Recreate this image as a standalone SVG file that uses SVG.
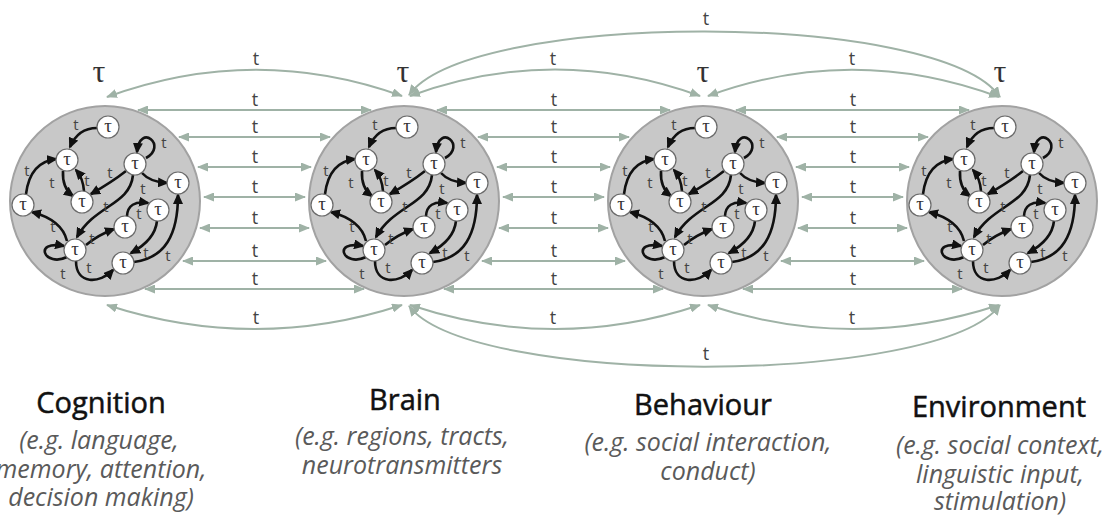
<svg xmlns="http://www.w3.org/2000/svg" xmlns:xlink="http://www.w3.org/1999/xlink" width="1117" height="515" viewBox="0 0 1117 515">
<defs>
<style>
.big{fill:#c8c8c8;stroke:#a2a2a2;stroke-width:2}
.n{fill:#fff;stroke:#6a6a6a;stroke-width:1.2}
.nt{font-family:"Liberation Serif",serif;font-size:19px;fill:#333;text-anchor:middle}
.e{fill:none;stroke:#111;stroke-width:2.6;marker-end:url(#ah)}
.it{font-family:"Open Sans","Liberation Sans",sans-serif;font-size:15px;fill:#444;text-anchor:middle}
.c{fill:none;stroke:#9fb2a6;stroke-width:2;marker-start:url(#ag);marker-end:url(#ag)}
.ct{font-family:"Open Sans","Liberation Sans",sans-serif;font-size:18px;fill:#444;text-anchor:middle}
.tau{font-family:"Liberation Serif",serif;font-size:32px;fill:#333;text-anchor:middle}
.ti{font-family:"Open Sans","Liberation Sans",sans-serif;font-size:29px;font-weight:normal;fill:#111;stroke:#111;stroke-width:0.5;text-anchor:middle}
.sub{font-family:"Open Sans","Liberation Sans",sans-serif;font-size:25px;font-style:italic;fill:#5a5a5a;text-anchor:middle}
</style>
<marker id="ah" markerUnits="userSpaceOnUse" markerWidth="11" markerHeight="10" refX="9" refY="5" orient="auto"><path d="M0,0 L11,5 L0,10 z" fill="#111"/></marker>
<marker id="ag" markerUnits="userSpaceOnUse" markerWidth="11" markerHeight="9" refX="10" refY="4.5" orient="auto-start-reverse"><path d="M0,0 L11,4.5 L0,9 z" fill="#9fb2a6"/></marker>
<g id="net">
<path class="e" d="M-8,-73 Q-27,-73 -35,-54"/>
<path class="e" d="M-79,-7 Q-75,-39 -49,-42"/>
<path class="e" d="M-42,-30 Q-43,-13 -32,-5"/>
<path class="e" d="M-21,-10 Q-22,-23 -29,-31"/>
<path class="e" d="M41,-43 C63,-55 35,-79 32,-49"/>
<path class="e" d="M21,-30 Q7,-19 -14,-7"/>
<path class="e" d="M37,-28 Q45,-19 62,-18"/>
<path class="e" d="M28,-26 C25,4 -10,4 -28,36"/>
<path class="e" d="M-38,40 Q-43,19 -73,11"/>
<path class="e" d="M-38,56 C-60,67 -73,39 -41,45"/>
<path class="e" d="M-19,44 Q-7,34 9,28"/>
<path class="e" d="M-29,60 C-29,84 -5,83 8,69"/>
<path class="e" d="M22,15 Q23,-1 43,2"/>
<path class="e" d="M52,20 Q50,39 26,52"/>
<path class="e" d="M29,61 C60,57 73,34 73,-6"/>
<circle class="n" cx="3" cy="-74" r="11"/><text class="nt" x="3" y="-69">τ</text>
<circle class="n" cx="-38" cy="-41" r="11"/><text class="nt" x="-38" y="-36">τ</text>
<circle class="n" cx="30" cy="-37" r="11"/><text class="nt" x="30" y="-32">τ</text>
<circle class="n" cx="73" cy="-18" r="11"/><text class="nt" x="73" y="-13">τ</text>
<circle class="n" cx="-82" cy="4" r="11"/><text class="nt" x="-82" y="9">τ</text>
<circle class="n" cx="-23" cy="1" r="11"/><text class="nt" x="-23" y="6">τ</text>
<circle class="n" cx="53" cy="9" r="11"/><text class="nt" x="53" y="14">τ</text>
<circle class="n" cx="20" cy="26" r="11"/><text class="nt" x="20" y="31">τ</text>
<circle class="n" cx="-30" cy="49" r="11"/><text class="nt" x="-30" y="54">τ</text>
<circle class="n" cx="18" cy="62" r="11"/><text class="nt" x="18" y="67">τ</text>
<text class="it" x="-29" y="-71">t</text>
<text class="it" x="-78" y="-25">t</text>
<text class="it" x="-53" y="-13">t</text>
<text class="it" x="-18" y="-15">t</text>
<text class="it" x="59" y="-53">t</text>
<text class="it" x="5" y="-23">t</text>
<text class="it" x="38" y="-7">t</text>
<text class="it" x="1" y="11">t</text>
<text class="it" x="34" y="18">t</text>
<text class="it" x="-52" y="31">t</text>
<text class="it" x="-13" y="43">t</text>
<text class="it" x="41" y="57">t</text>
<text class="it" x="63" y="60">t</text>
<text class="it" x="-16" y="72">t</text>
<text class="it" x="-42" y="78">t</text>
</g>
</defs>
<rect width="1117" height="515" fill="#fff"/>

<g id="cognition">
<circle class="big" cx="105" cy="201" r="95"/>
<use xlink:href="#net" href="#net" x="105" y="201"/>
<text class="tau" x="99" y="82">τ</text>
<text class="ti" x="101" y="413">Cognition</text>
<text class="sub" x="99" y="449">(e.g. language,</text>
<text class="sub" x="101" y="478">memory, attention,</text>
<text class="sub" x="101" y="506">decision making)</text>
</g>
<g id="brain">
<circle class="big" cx="404" cy="201" r="95"/>
<use xlink:href="#net" href="#net" x="404" y="201"/>
<text class="tau" x="403" y="82">τ</text>
<text class="ti" x="405" y="410">Brain</text>
<text class="sub" x="402" y="445">(e.g. regions, tracts,</text>
<text class="sub" x="402" y="474">neurotransmitters</text>
</g>
<g id="behaviour">
<circle class="big" cx="703" cy="201" r="95"/>
<use xlink:href="#net" href="#net" x="703" y="201"/>
<text class="tau" x="703" y="82">τ</text>
<text class="ti" x="703" y="415">Behaviour</text>
<text class="sub" x="708" y="451">(e.g. social interaction,</text>
<text class="sub" x="708" y="480">conduct)</text>
</g>
<g id="environment">
<circle class="big" cx="1002" cy="201" r="95"/>
<use xlink:href="#net" href="#net" x="1002" y="201"/>
<text class="tau" x="1000" y="82">τ</text>
<text class="ti" x="999" y="417">Environment</text>
<text class="sub" x="1000" y="454">(e.g. social context,</text>
<text class="sub" x="1000" y="483">linguistic input,</text>
<text class="sub" x="1000" y="510">stimulation)</text>
</g>

<g id="connectors">
<path class="c" d="M138,110 H371"/>
<path class="c" d="M179,137 H330"/>
<path class="c" d="M198,167 H311"/>
<path class="c" d="M204,197 H305"/>
<path class="c" d="M200,228 H309"/>
<path class="c" d="M183,261 H326"/>
<path class="c" d="M145,289 H364"/>
<path class="c" d="M437,110 H670"/>
<path class="c" d="M478,137 H629"/>
<path class="c" d="M497,167 H610"/>
<path class="c" d="M503,197 H604"/>
<path class="c" d="M499,228 H608"/>
<path class="c" d="M482,261 H625"/>
<path class="c" d="M444,289 H663"/>
<path class="c" d="M736,110 H969"/>
<path class="c" d="M777,137 H928"/>
<path class="c" d="M796,167 H909"/>
<path class="c" d="M802,197 H903"/>
<path class="c" d="M798,228 H907"/>
<path class="c" d="M781,261 H924"/>
<path class="c" d="M743,289 H962"/>
<path class="c" d="M107,97 Q255,43 402,96"/>
<path class="c" d="M410,96 Q555,43 700,96"/>
<path class="c" d="M708,96 Q853,43 999,97"/>
<path class="c" d="M409,95 C470,10 940,10 1000,97"/>
<path class="c" d="M107,305 Q255,353 402,305"/>
<path class="c" d="M410,305 Q555,353 700,305"/>
<path class="c" d="M708,305 Q853,353 999,305"/>
<path class="c" d="M409,306 C470,387 940,387 1000,305"/>
<g class="ct">
<text x="255" y="106">t</text><text x="255" y="133">t</text><text x="255" y="163">t</text><text x="255" y="193">t</text><text x="255" y="224">t</text><text x="255" y="257">t</text><text x="255" y="285">t</text>
<text x="554" y="106">t</text><text x="554" y="133">t</text><text x="554" y="163">t</text><text x="554" y="193">t</text><text x="554" y="224">t</text><text x="554" y="257">t</text><text x="554" y="285">t</text>
<text x="853" y="106">t</text><text x="853" y="133">t</text><text x="853" y="163">t</text><text x="853" y="193">t</text><text x="853" y="224">t</text><text x="853" y="257">t</text><text x="853" y="285">t</text>
<text x="256" y="65">t</text><text x="553" y="65">t</text><text x="852" y="65">t</text><text x="706" y="25">t</text>
<text x="256" y="324">t</text><text x="553" y="324">t</text><text x="852" y="324">t</text><text x="706" y="360">t</text>
</g>
</g>
</svg>
